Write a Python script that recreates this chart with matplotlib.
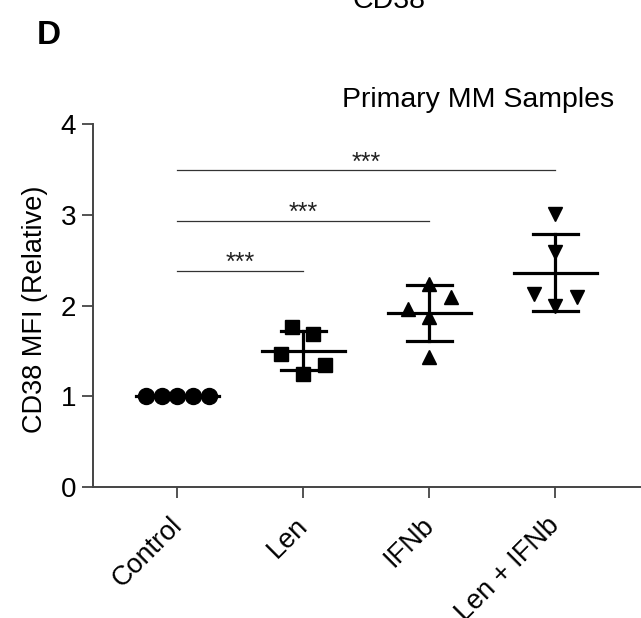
import matplotlib.pyplot as plt
import numpy as np

plt.rcParams['font.family'] = ['Liberation Sans', 'DejaVu Sans']

groups = ['Control', 'Len', 'IFNb', 'Len + IFNb']
control = [1.0, 1.0, 1.0, 1.0, 1.0]
len_vals = [1.76, 1.69, 1.47, 1.35, 1.25]
ifnb_vals = [2.24, 2.09, 1.96, 1.87, 1.43]
combo_vals = [3.01, 2.59, 2.13, 2.09, 2.00]

# horizontal scatter of the points within each group
control_dx = [-0.25, -0.125, 0.0, 0.125, 0.25]
len_dx = [-0.09, 0.08, -0.175, 0.175, 0.0]
ifnb_dx = [0.0, 0.17, -0.17, 0.0, 0.0]
combo_dx = [0.0, 0.0, -0.17, 0.17, 0.0]

# significance brackets: (from group, to group, height)
brackets = [(0, 1, 2.38), (0, 2, 2.93), (0, 3, 3.49)]

series = [(control, control_dx, 'o', 11.5),
          (len_vals, len_dx, 's', 9.5),
          (ifnb_vals, ifnb_dx, '^', 10),
          (combo_vals, combo_dx, 'v', 10)]

fig = plt.figure(figsize=(6.41, 6.18), dpi=100)
ax = fig.add_axes([0.145, 0.212, 0.853, 0.587])

for i, (vals, dx, mk, ms) in enumerate(series):
    vals = np.array(vals)
    xs = i + np.array(dx)
    ax.plot(xs, vals, linestyle='none', marker=mk, markersize=ms,
            color='black', zorder=3)
    m = vals.mean()
    sd = vals.std(ddof=1)
    # mean line and SD whiskers
    ax.plot([i - 0.33, i + 0.33], [m, m], color='black', lw=2.3, zorder=4)
    if sd > 0:
        ax.plot([i, i], [m - sd, m + sd], color='black', lw=2.3, zorder=4)
        ax.plot([i - 0.18, i + 0.18], [m + sd, m + sd], color='black', lw=2.3, zorder=4)
        ax.plot([i - 0.18, i + 0.18], [m - sd, m - sd], color='black', lw=2.3, zorder=4)

for a, b, h in brackets:
    ax.plot([a, b], [h, h], color='#333333', lw=0.9)
    ax.text((a + b) / 2, h + 0.01, '***', ha='center', va='baseline',
            fontsize=18, color='#222222')

ax.set_xlim(-0.67, 3.67)
ax.set_ylim(0, 4)
ax.set_yticks([0, 1, 2, 3, 4])
ax.set_xticks(range(4))
ax.set_xticklabels([])
# slanted group labels, anchored just below each tick
for i, g in enumerate(groups):
    ax.annotate(g, xy=(i, 0), xycoords=('data', 'axes fraction'),
                xytext=(0.5, -25), textcoords='offset points',
                rotation=45, ha='right', va='center', rotation_mode='anchor',
                fontsize=19.5)
ax.tick_params(axis='y', labelsize=20, length=8, width=1.3, color='#444444', pad=4)
ax.tick_params(axis='x', length=8, width=1.3, color='#444444')
ax.spines['top'].set_visible(False)
ax.spines['right'].set_visible(False)
for s in ['left', 'bottom']:
    ax.spines[s].set_linewidth(1.4)
    ax.spines[s].set_color('#444444')
ax.set_ylabel('CD38 MFI (Relative)', fontsize=19.5)
ax.yaxis.set_label_coords(-0.082, 0.49)

fig.text(0.746, 0.838, 'Primary MM Samples', ha='center', va='center', fontsize=20.5)
fig.text(0.058, 0.943, 'D', ha='left', va='center', fontsize=24, fontweight='bold')
fig.text(0.607, 0.977, 'CD38', ha='center', va='bottom', fontsize=20.5)

fig.savefig('out.png', dpi=100)
